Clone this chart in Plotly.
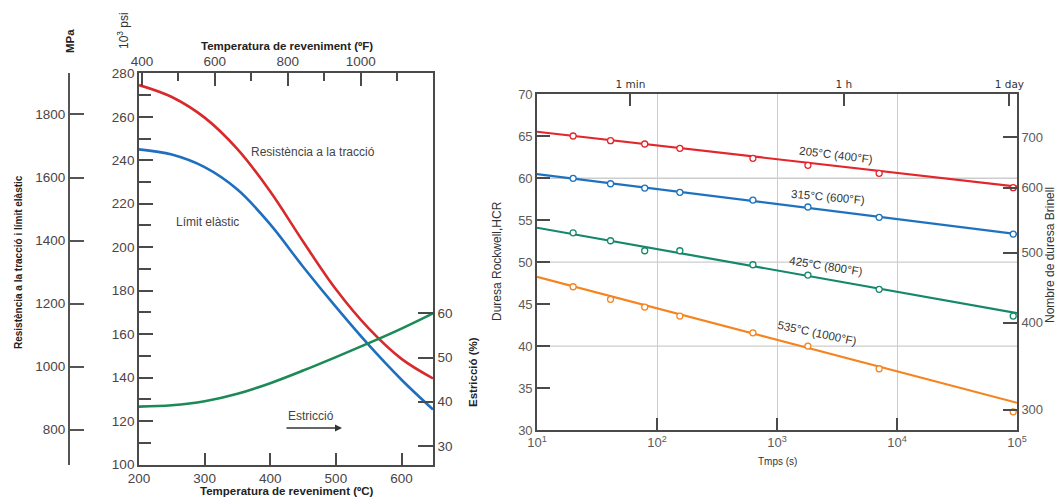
import plotly.graph_objects as go

W, H = 1059, 500

# ---------------- Left panel data (tempering temperature) ----------------
temp_c = [200, 250, 300, 350, 400, 450, 500, 550, 600, 648]
tensile_ksi = [274.6, 269.1, 259.6, 245.1, 225.6, 202.6, 180.6, 162.6, 148.6, 139.6]
yield_ksi = [245.0, 242.6, 236.8, 226.5, 210.5, 191.0, 172.5, 155.0, 139.0, 125.3]
ductility_pct = [38.9, 39.2, 40.1, 41.8, 44.2, 47.05, 50.1, 53.25, 56.55, 60.0]

ksi_ticks = [100, 120, 140, 160, 180, 200, 220, 240, 260, 280]
mpa_ticks = [800, 1000, 1200, 1400, 1600, 1800]
pct_ticks = [30, 40, 50, 60]
c_ticks = [200, 300, 400, 500, 600]
f_ticks = [400, 600, 800, 1000, 1200]
f_minor = [500, 700, 900, 1100]

# ---------------- Right panel data (hardness vs time) ----------------
time_s = [20, 41, 79, 155, 630, 1810, 7100, 93000]
hrc_205 = [65.03, 64.47, 64.08, 63.56, 62.37, 61.54, 60.58, 58.87]
hrc_315 = [59.99, 59.34, 58.83, 58.32, 57.40, 56.57, 55.34, 53.35]
hrc_425 = [53.50, 52.55, 51.36, 51.36, 49.69, 48.46, 46.76, 43.58]
hrc_535 = [47.07, 45.57, 44.65, 43.58, 41.58, 40.00, 37.30, 32.17]

fit_time = [10, 100000]
fit_205 = [65.54, 58.99]
fit_315 = [60.50, 53.35]
fit_425 = [54.10, 43.93]
fit_535 = [48.26, 33.24]

series_names = ["205°C (400°F)", "315°C (600°F)", "425°C (800°F)", "535°C (1000°F)"]
hrc_ticks = [30, 35, 40, 45, 50, 55, 60, 65, 70]
hrc_grid = [40, 50, 60]
time_ticks = [10, 100, 1000, 10000, 100000]
time_tick_text = ["10<sup>1</sup>", "10<sup>2</sup>", "10<sup>3</sup>", "10<sup>4</sup>", "10<sup>5</sup>"]
top_time_ticks = [60, 3600, 86400]
top_time_text = ["1 min", "1 h", "1 day"]
brinell_hrc = [32.4, 42.8, 51.1, 58.85, 64.9]
brinell_text = ["300", "400", "500", "600", "700"]

# ---------------- colours / fonts ----------------
RED_L, BLUE_L, GREEN_L = "#d8292c", "#1f6fc0", "#1b8a57"
RED_R, BLUE_R, GREEN_R, ORANGE_R = "#e3262b", "#1d72bf", "#15886a", "#f5841f"
AX = "#4a4a4a"
FONT = "Liberation Sans"
tickfont_l = dict(family=FONT, size=13.5, color="#4a4446")
tickfont_r = dict(family=FONT, size=13, color="#5a5a5a")

fig = go.Figure()

# left panel traces
for vals, col, ya in [(tensile_ksi, RED_L, "y"), (yield_ksi, BLUE_L, "y"), (ductility_pct, GREEN_L, "y3")]:
    fig.add_trace(go.Scatter(x=temp_c, y=vals, mode="lines",
                             line=dict(color=col, width=2.6, shape="spline", smoothing=1.0),
                             xaxis="x", yaxis=ya, showlegend=False))

# right panel traces
for fit, pts, col in [(fit_205, hrc_205, RED_R), (fit_315, hrc_315, BLUE_R),
                      (fit_425, hrc_425, GREEN_R), (fit_535, hrc_535, ORANGE_R)]:
    fig.add_trace(go.Scatter(x=fit_time, y=fit, mode="lines", line=dict(color=col, width=2.2),
                             xaxis="x3", yaxis="y4", showlegend=False, cliponaxis=False))
    fig.add_trace(go.Scatter(x=time_s, y=pts, mode="markers",
                             marker=dict(symbol="circle", size=6, color="white", line=dict(color=col, width=1.3)),
                             xaxis="x3", yaxis="y4", showlegend=False, cliponaxis=False))

# dummy traces to activate overlay axes
fig.add_trace(go.Scatter(x=[None], y=[None], xaxis="x2", yaxis="y2", showlegend=False))
fig.add_trace(go.Scatter(x=[None], y=[None], xaxis="x4", yaxis="y5", showlegend=False))

ldom_x = [139 / W, 433 / W]
ldom_y = [1 - 464.5 / H, 1 - 73.3 / H]
rdom_x = [537 / W, 1017 / W]
rdom_y = [1 - 430 / H, 1 - 94.3 / H]

common_line = dict(showline=True, linecolor=AX, linewidth=1.8, zeroline=False, showgrid=False, automargin=False)

fig.update_layout(
    width=W, height=H, margin=dict(l=0, r=0, t=0, b=0, autoexpand=False),
    paper_bgcolor="white", plot_bgcolor="white",
    xaxis=dict(domain=ldom_x, anchor="y", range=[200, 648], tickvals=c_ticks,
               ticks="inside", ticklen=12, tickwidth=1.8, tickcolor=AX, tickfont=tickfont_l,
               **common_line),
    xaxis2=dict(overlaying="x", anchor="y", side="top", range=[392, 1198.4], tickvals=f_ticks,
                ticks="inside", ticklen=13, tickwidth=1.8, tickcolor=AX, tickfont=tickfont_l,
                minor=dict(tickvals=f_minor, ticks="inside", ticklen=8, tickwidth=1.5, tickcolor=AX),
                **common_line),
    yaxis=dict(domain=ldom_y, anchor="x", range=[100, 280], tickvals=ksi_ticks,
               ticks="inside", ticklen=14, tickwidth=1.8, tickcolor=AX, tickfont=tickfont_l,
               minor=dict(dtick=10, ticks="inside", ticklen=12, tickwidth=1.5, tickcolor=AX),
               **common_line),
    yaxis2=dict(overlaying="y", anchor="free", position=69 / W, side="left",
                range=[100 * 6.895, 280 * 6.895], tickvals=mpa_ticks,
                ticks="inside", ticklen=14, tickwidth=2, tickcolor="#555", tickfont=tickfont_l,
                showline=True, linecolor="#555", linewidth=2.2, zeroline=False, showgrid=False, automargin=False),
    yaxis3=dict(overlaying="y", anchor="x", side="right", range=[25.8, 114.3], tickvals=pct_ticks,
                ticks="inside", ticklen=15, tickwidth=1.8, tickcolor=AX, tickfont=tickfont_l,
                **common_line),
    xaxis3=dict(domain=rdom_x, anchor="y4", type="log", range=[1, 5], tickvals=time_ticks, ticktext=time_tick_text,
                ticks="inside", ticklen=12, tickwidth=1.8, tickcolor=AX, tickfont=tickfont_r,
                showline=True, linecolor=AX, linewidth=1.6, zeroline=False, automargin=False,
                showgrid=True, gridcolor="#cdcdcd", gridwidth=1.3),
    xaxis4=dict(overlaying="x3", anchor="y4", side="top", type="log", range=[1, 5],
                tickvals=top_time_ticks, ticktext=top_time_text,
                ticks="inside", ticklen=12, tickwidth=1.8, tickcolor=AX,
                tickfont=dict(family="DejaVu Sans", size=10.5, color="#333"),
                showline=True, linecolor=AX, linewidth=1.6, zeroline=False, showgrid=False, automargin=False),
    yaxis4=dict(domain=rdom_y, anchor="x3", range=[30, 70], tickvals=hrc_ticks,
                ticks="inside", ticklen=13, tickwidth=1.8, tickcolor=AX, tickfont=tickfont_r,
                showline=True, linecolor=AX, linewidth=1.6, zeroline=False, showgrid=False, automargin=False),
    yaxis5=dict(overlaying="y4", anchor="x3", side="right", range=[30, 70],
                tickvals=brinell_hrc, ticktext=brinell_text,
                ticks="inside", ticklen=14, tickwidth=1.8, tickcolor=AX, tickfont=tickfont_r,
                showline=True, linecolor=AX, linewidth=1.6, zeroline=False, showgrid=False, automargin=False),
)

# horizontal grid lines in right panel
for g in hrc_grid:
    fig.add_shape(type="line", xref="x3 domain", yref="y4", x0=0, x1=1, y0=g, y1=g,
                  line=dict(color="#cdcdcd", width=1.3), layer="below")


def px(x, y):
    return x / W, 1 - y / H


annots = []
bold = dict(family=FONT, size=11.5, color="#222")
# left panel titles
x, y = px(287, 46)
annots.append(dict(x=x, y=y, text="<b>Temperatura de reveniment (ºF)</b>", font=bold))
x, y = px(287, 491)
annots.append(dict(x=x, y=y, text="<b>Temperatura de reveniment (ºC)</b>", font=bold))
x, y = px(18, 262)
annots.append(dict(x=x, y=y, text="<b>Resistència a la tracció i límit elàstic</b>", textangle=-90,
                   font=dict(family=FONT, size=10, color="#222")))
x, y = px(473, 372)
annots.append(dict(x=x, y=y, text="<b>Estricció (%)</b>", textangle=-90, font=bold))
x, y = px(70, 41)
annots.append(dict(x=x, y=y, text="<b>MPa</b>", textangle=-90, font=bold))
x, y = px(123, 31)
annots.append(dict(x=x, y=y, text="10<sup>3</sup> psi", textangle=-90, font=dict(family=FONT, size=12, color="#333")))
x, y = px(313, 152)
annots.append(dict(x=x, y=y, text="Resistència a la tracció", font=dict(family=FONT, size=12, color="#444")))
x, y = px(207, 222)
annots.append(dict(x=x, y=y, text="Límit elàstic", font=dict(family=FONT, size=12, color="#444")))
x, y = px(311, 416)
annots.append(dict(x=x, y=y, text="Estricció", font=dict(family=FONT, size=12, color="#444")))
x, y = px(342, 428)
annots.append(dict(x=x, y=y, text="", showarrow=True, ax=-57, ay=0, arrowhead=2, arrowsize=1,
                   arrowwidth=1.4, arrowcolor="#333"))

# right panel titles
x, y = px(497, 261)
annots.append(dict(x=x, y=y, text="Duresa Rockwell,HCR", textangle=-90,
                   font=dict(family=FONT, size=12, color="#333")))
x, y = px(1050, 255)
annots.append(dict(x=x, y=y, text="Nombre de duresa Brinell", textangle=-90,
                   font=dict(family=FONT, size=12, color="#333")))
x, y = px(777, 461)
annots.append(dict(x=x, y=y, text="Tmps (s)", font=dict(family=FONT, size=10, color="#333")))

# series labels
lab_pos = [(836, 155, 7), (828, 197, 5), (826, 266, 9), (817, 333, 12)]
for name, (lx, ly, ang) in zip(series_names, lab_pos):
    x, y = px(lx, ly)
    annots.append(dict(x=x, y=y, text=name, textangle=ang, font=dict(family=FONT, size=11.5, color="#333")))

for a in annots:
    a.setdefault("showarrow", False)
    a.update(xref="paper", yref="paper", xanchor="center", yanchor="middle")
fig.update_layout(annotations=annots)

fig.write_html("out.html")
